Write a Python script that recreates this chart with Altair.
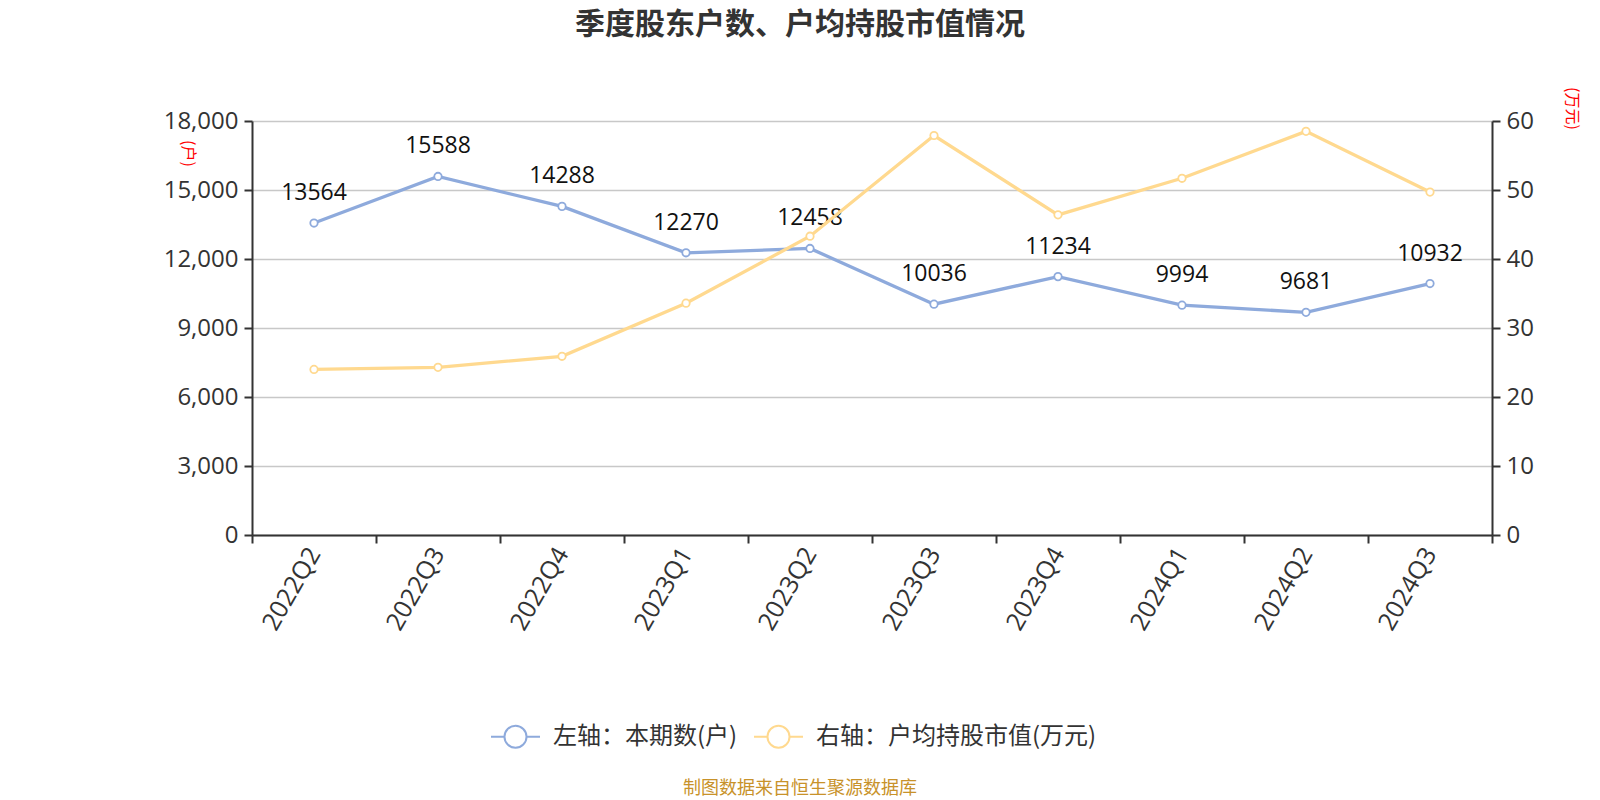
import altair as alt
import pandas as pd

quarters = ["2022Q2", "2022Q3", "2022Q4", "2023Q1", "2023Q2",
            "2023Q3", "2023Q4", "2024Q1", "2024Q2", "2024Q3"]
holders = [13564, 15588, 14288, 12270, 12458, 10036, 11234, 9994, 9681, 10932]
avg_value = [24.0, 24.3, 25.9, 33.6, 43.3, 57.9, 46.4, 51.7, 58.5, 49.7]

s_left = "左轴：本期数(户)"
s_right = "右轴：户均持股市值(万元)"
series_names = [s_left, s_right]
series_colors = ["#8EAADC", "#FFD98F"]

title_text = "季度股东户数、户均持股市值情况"
footer_text = "制图数据来自恒生聚源数据库"

FONT = "Open Sans, Noto Sans CJK SC, sans-serif"
CJK = "Noto Sans CJK SC, sans-serif"

df_left = pd.DataFrame({"quarter": quarters, "value": holders, "series": s_left})
df_right = pd.DataFrame({"quarter": quarters, "value": avg_value, "series": s_right})

legend_path = ("M-1,0L-0.45,0M0.45,0L1,0"
               "M0.45,0A0.45,0.45,0,1,1,-0.45,0A0.45,0.45,0,1,1,0.45,0Z")

color = alt.Color(
    "series:N",
    scale=alt.Scale(domain=series_names, range=series_colors),
    legend=alt.Legend(
        title=None, orient="none", direction="horizontal",
        legendX=238, legendY=590,
        symbolType=legend_path, symbolSize=2401, symbolStrokeWidth=2,
        symbolFillColor="white", labelFontSize=24, labelFont=CJK,
        labelColor="#333333", columnPadding=12, labelOffset=12,
        labelLimit=500,
    ),
)

x = alt.X(
    "quarter:N", sort=quarters, title=None,
    scale=alt.Scale(paddingInner=0, paddingOuter=0),
    axis=alt.Axis(
        labelAngle=-60, labelAlign="right", labelBaseline="middle",
        labelFontSize=25, labelFont=FONT, labelColor="#333333", labelPadding=6,
        tickBand="extent", tickSize=8, tickWidth=2, tickColor="#333333",
        domainColor="#333333", domainWidth=2, grid=False,
    ),
)

y_left = alt.Y(
    "value:Q",
    scale=alt.Scale(domain=[0, 18000], nice=False),
    axis=alt.Axis(
        values=[0, 3000, 6000, 9000, 12000, 15000, 18000], format=",.0f",
        labelFontSize=24, labelFont=FONT, labelColor="#333333", labelPadding=6,
        tickSize=8, tickWidth=2, tickColor="#333333",
        domainColor="#333333", domainWidth=2,
        grid=True, gridColor="#C8C8C8", gridWidth=1.5,
        title="(户)", titleAngle=90, titleColor="#FF0000", titleFontSize=16,
        titleFont=CJK, titleFontWeight="normal", titleX=-65, titleY=32,
        titleAlign="center", titleBaseline="middle",
    ),
)

y_right = alt.Y(
    "value:Q",
    scale=alt.Scale(domain=[0, 60], nice=False),
    axis=alt.Axis(
        orient="right", values=[0, 10, 20, 30, 40, 50, 60], format="d",
        labelFontSize=24, labelFont=FONT, labelColor="#333333", labelPadding=6,
        tickSize=8, tickWidth=2, tickColor="#333333",
        domainColor="#333333", domainWidth=2, grid=False,
        title="(万元)", titleAngle=90, titleColor="#FF0000", titleFontSize=16,
        titleFont=CJK, titleFontWeight="normal", titleX=79, titleY=-13,
        titleAlign="center", titleBaseline="middle",
    ),
)

stroke = alt.Stroke("series:N", scale=alt.Scale(domain=series_names, range=series_colors), legend=None)

base_left = alt.Chart(df_left)
base_right = alt.Chart(df_right)

left_line = base_left.mark_line(strokeWidth=3.3).encode(x=x, y=y_left, color=color)
left_pts = base_left.mark_point(filled=True, fill="white", size=55, strokeWidth=1.8, opacity=1).encode(
    x=x, y=y_left, stroke=stroke)
left_lbl = base_left.mark_text(dy=-30, fontSize=23, font=FONT, color="#111111").encode(
    x=x, y=y_left, text=alt.Text("value:Q", format="d"))

right_line = base_right.mark_line(strokeWidth=3.3).encode(x=x, y=y_right, color=color)
right_pts = base_right.mark_point(filled=True, fill="white", size=55, strokeWidth=1.8, opacity=1).encode(
    x=x, y=y_right, stroke=stroke)

left_layer = alt.layer(left_line, left_pts, left_lbl)
right_layer = alt.layer(right_line, right_pts)

footer = alt.Chart(pd.DataFrame({"t": [footer_text]})).mark_text(
    fontSize=18, font=CJK, color="#C8922A", align="center", baseline="middle"
).encode(x=alt.value(548), y=alt.value(668), text="t")

chart = alt.layer(left_layer, right_layer, footer).resolve_scale(
    y="independent"
).properties(
    width=1240, height=414,
    padding={"left": 252, "top": 121, "right": 108, "bottom": 265},
    autosize=alt.AutoSizeParams(type="none"),
    title=alt.TitleParams(
        title_text, fontSize=30, fontWeight="bold", font=CJK, color="#333333",
        anchor="middle", dx=-72, dy=13, offset=60,
    ),
).configure_view(stroke=None)

chart.save("out.html", embed_options={"renderer": "svg", "actions": False})
